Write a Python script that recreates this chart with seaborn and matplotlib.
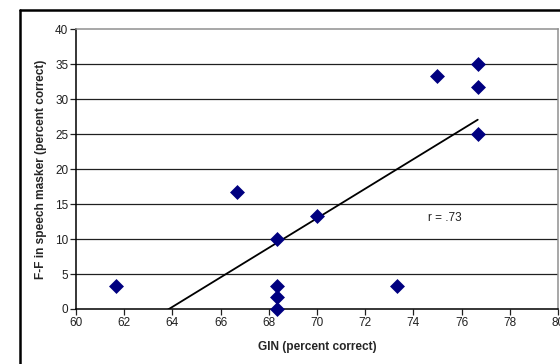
import matplotlib
matplotlib.use("Agg")
import matplotlib.pyplot as plt
from matplotlib.lines import Line2D
import pandas as pd
import seaborn as sns

# GIN vs F-F in speech masker, both in percent correct
gin = [61.67, 66.67, 68.33, 68.33, 68.33, 68.33, 70.0, 73.33, 75.0, 76.67, 76.67, 76.67]
ff_speech = [3.33, 16.67, 10.0, 3.33, 1.67, 0.0, 13.33, 3.33, 33.33, 35.0, 31.67, 25.0]
x_ticks = list(range(60, 81, 2))
y_ticks = list(range(0, 41, 5))

df = pd.DataFrame({"gin": gin, "ff": ff_speech})

sns.set_theme(style="white")
plt.rcParams["font.family"] = ["Liberation Sans", "DejaVu Sans"]

fig = plt.figure(figsize=(5.6, 3.64), dpi=100)
ax = fig.add_axes([0.1357, 0.1511, 0.8607, 0.7692])

# chart frame (cut off at right and bottom, as in the source)
fig.add_artist(Line2D([20 / 560, 20 / 560], [0, 1 - 10 / 364], color="black", lw=1.8, transform=fig.transFigure))
fig.add_artist(Line2D([20 / 560, 1], [1 - 10 / 364, 1 - 10 / 364], color="black", lw=1.8, transform=fig.transFigure))

ax.set_xlim(60, 80)
ax.set_ylim(0, 40)
ax.set_xticks(x_ticks)
ax.set_yticks(y_ticks)
for yv in y_ticks[1:-1]:
    ax.axhline(yv, color="#202020", lw=0.9, zorder=0)

sns.regplot(data=df, x="gin", y="ff", scatter=False, ci=None, truncate=True,
            line_kws={"color": "black", "lw": 1.3}, ax=ax)
sns.scatterplot(data=df, x="gin", y="ff", marker="D", s=58, color="#000080",
                edgecolor="#000080", linewidth=0, ax=ax, zorder=3, clip_on=False)

ax.text(74.6, 13.0, "r = .73", fontsize=8.5, color="#202020", ha="left", va="center")

ax.set_xlabel("GIN (percent correct)", fontsize=8.6, fontweight="bold", labelpad=9)
ax.set_ylabel("F-F in speech masker (percent correct)", fontsize=8.6, fontweight="bold", labelpad=6)
ax.tick_params(axis="both", labelsize=8.5, colors="#202020", length=4, width=0.9,
               direction="out", bottom=True, left=True, pad=1.5)

for side in ("left", "bottom"):
    ax.spines[side].set_color("black")
    ax.spines[side].set_linewidth(1.1)
for side in ("top", "right"):
    ax.spines[side].set_color("#909090")
    ax.spines[side].set_linewidth(1.1)

fig.savefig("out.png", dpi=100)
